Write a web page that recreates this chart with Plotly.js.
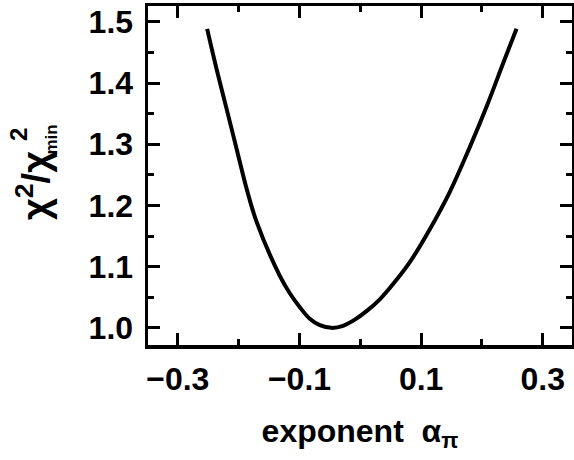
<!DOCTYPE html>
<html>
<head>
<meta charset="utf-8">
<script src="https://cdn.plot.ly/plotly-3.0.1.min.js"></script>
<style>
  html, body { margin: 0; padding: 0; background: #fff; }
  #chart { width: 574px; height: 460px; }
</style>
</head>
<body>
<div id="chart"></div>
<script>
// chi^2 / chi^2_min as a function of the exponent alpha_pi
const alphaPi = [-0.2518, -0.2364, -0.2199, -0.2035, -0.1871, -0.1706, -0.1323, -0.1159,
                 -0.0994, -0.0830, -0.0666, -0.0473, -0.0283, -0.0090, 0.0102, 0.0321,
                 0.0539, 0.0814, 0.1143, 0.1472, 0.1800, 0.2075, 0.2348, 0.2568];
const chiRatio = [1.4886, 1.4235, 1.3583, 1.2933, 1.2283, 1.1737, 1.0850, 1.0565,
                  1.0337, 1.0149, 1.0044, 1.0000, 1.0033, 1.0134, 1.0273, 1.0467,
                  1.0716, 1.1074, 1.1613, 1.2224, 1.2954, 1.3613, 1.4324, 1.4889];

const xTicks = [-0.3, -0.1, 0.1, 0.3];
const yTicks = [1.0, 1.1, 1.2, 1.3, 1.4, 1.5];

const FONT = '"Liberation Sans", Arial, sans-serif';

const trace = {
  x: alphaPi,
  y: chiRatio,
  type: 'scatter',
  mode: 'lines',
  line: { color: '#000', width: 4, shape: 'spline', smoothing: 1 },
  hoverinfo: 'skip'
};

const axisCommon = {
  showgrid: false,
  zeroline: false,
  showline: true,
  linecolor: '#000',
  linewidth: 3.5,
  mirror: 'ticks',
  ticks: 'inside',
  ticklen: 12,
  tickwidth: 3,
  tickcolor: '#000',
  tickformat: '.1f',
  tickfont: { family: FONT, size: 32, color: '#000', weight: 'bold' }
};

// rotated y-axis label, built from pieces so that "2" sits above "min"
function yLabelPiece(text, x, y, size) {
  return {
    xref: 'paper', yref: 'paper',
    x: x, y: y,
    xanchor: 'center', yanchor: 'middle',
    textangle: -90,
    showarrow: false,
    text: text,
    font: { family: FONT, size: size, color: '#000', weight: 'bold' }
  };
}

const layout = {
  width: 574,
  height: 460,
  margin: { l: 148, r: 2, t: 6, b: 115 },
  paper_bgcolor: '#fff',
  plot_bgcolor: '#fff',
  showlegend: false,
  xaxis: Object.assign({}, axisCommon, {
    range: [-0.349, 0.348],
    tickmode: 'array',
    tickvals: xTicks,
    ticklabelstandoff: 3,
    minor: { dtick: 0.1, tick0: 0, ticks: 'inside', ticklen: 6, tickwidth: 3, tickcolor: '#000' },
    title: {
      text: 'exponent  α<sub>π</sub>',
      font: { family: FONT, size: 32, color: '#000', weight: 'bold' },
      standoff: 24
    }
  }),
  yaxis: Object.assign({}, axisCommon, {
    range: [0.972, 1.526],
    tickmode: 'array',
    tickvals: yTicks,
    ticklabelstandoff: 5,
    minor: { dtick: 0.05, tick0: 1.0, ticks: 'inside', ticklen: 6, tickwidth: 3, tickcolor: '#000' }
  }),
  annotations: [
    yLabelPiece('χ<sup>2</sup>/χ', -0.271, 0.469, 38),
    yLabelPiece('min', -0.228, 0.607, 17),
    yLabelPiece('2', -0.307, 0.622, 24)
  ]
};

Plotly.newPlot('chart', [trace], layout, { staticPlot: true, displayModeBar: false });
</script>
</body>
</html>
